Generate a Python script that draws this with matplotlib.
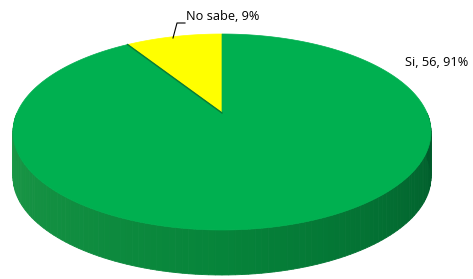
import matplotlib
matplotlib.use("Agg")
import matplotlib.pyplot as plt
import numpy as np
from matplotlib.patches import Polygon
from matplotlib.colors import to_rgb

# data
labels = ["No sabe", "Si"]
counts = [None, 56]
pcts = [9, 91]
colors = ["#FFFF00", "#00B050"]

# pie geometry (pixels)
cx, cy = 222, 132
rx, ry = 209, 98
depth = 45
tilt = np.arctanh(0.194)   # perspective: pie centre sits above ellipse centre

fig = plt.figure(figsize=(4.73, 2.79), dpi=100)
ax = fig.add_axes([0, 0, 1, 1])
ax.set_xlim(0, 473)
ax.set_ylim(279, 0)
ax.axis("off")


def proj(x, y):
    # projective map of the unit disc onto itself, moving the centre upward
    w = np.cosh(tilt) + y * np.sinh(tilt)
    X = x / w
    Y = (y * np.cosh(tilt) + np.sinh(tilt)) / w
    return cx + rx * X, cy - ry * Y


def pt(t, dy=0):
    x, y = proj(np.cos(t), np.sin(t))
    return x, y + dy


# side wall, shaded strips (front half only)
c_left = np.array(to_rgb("#1e9a48"))
c_mid = np.array(to_rgb("#06843a"))
c_right = np.array(to_rgb("#00582a"))
n = 120
ts = np.linspace(np.pi, 2 * np.pi, n + 1)
for i in range(n):
    t0, t1 = ts[i], ts[i + 1]
    f = i / (n - 1)
    if f < 0.5:
        col = c_left + (c_mid - c_left) * (f / 0.5)
    else:
        col = c_mid + (c_right - c_mid) * ((f - 0.5) / 0.5)
    p = [pt(t0), pt(t1), pt(t1, depth), pt(t0, depth)]
    ax.add_patch(Polygon(p, closed=True, fc=col, ec=col, lw=0.6))

# top face wedges, starting at 12 o'clock, counterclockwise
centre = proj(0.0, 0.0)
start = np.pi / 2
for lab, pc, col in zip(labels, pcts, colors):
    span = 2 * np.pi * pc / 100
    tt = np.linspace(start, start + span, 300)
    xs, ys = pt(tt)
    poly = [centre] + list(zip(xs, ys))
    ax.add_patch(Polygon(poly, closed=True, fc=col, ec=col, lw=0.5))
    start += span

# shadow line along the slice boundary
xe, ye = pt(np.pi / 2 + 2 * np.pi * pcts[0] / 100)
ax.plot([centre[0], xe], [centre[1], ye], color="#0a7a35", lw=1.0)

# labels
ax.plot([173, 177, 185], [38, 23, 23], color="black", lw=0.8)
ax.text(186, 17, "%s, %d%%" % (labels[0], pcts[0]), fontsize=9.2,
        family="Open Sans", va="center", ha="left")
ax.text(405, 62, "%s, %d, %d%%" % (labels[1], counts[1], pcts[1]), fontsize=9.2,
        family="Open Sans", va="center", ha="left")

fig.savefig("out.png", dpi=100)
